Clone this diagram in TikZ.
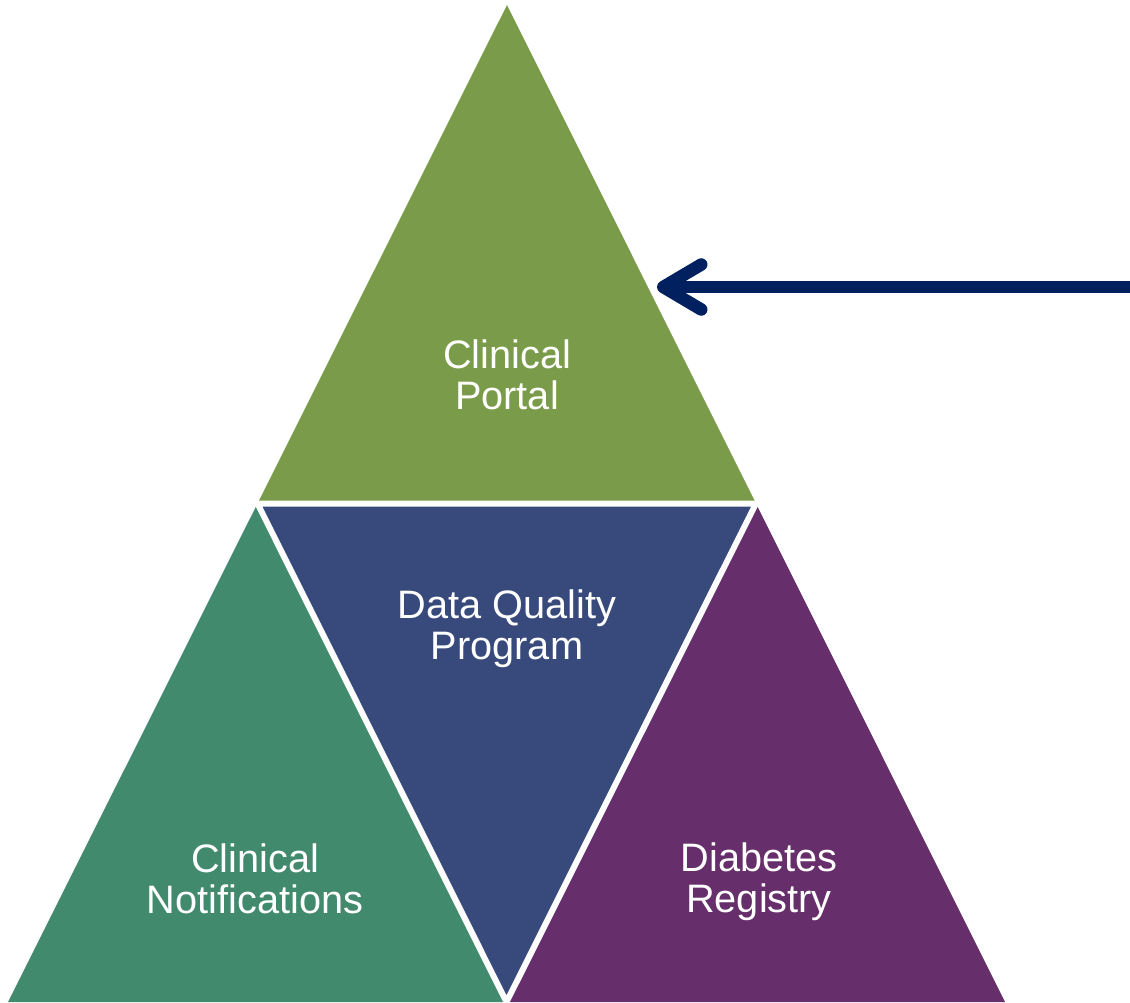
\documentclass[tikz,border=0pt]{standalone}
\usepackage{fontspec}
\setmainfont{Liberation Sans}
\usetikzlibrary{arrows.meta,calc}
\definecolor{portalgreen}{HTML}{7A9B4A}
\definecolor{qualityblue}{HTML}{384A7C}
\definecolor{notifteal}{HTML}{428A6E}
\definecolor{registrypurple}{HTML}{662E6A}
\definecolor{pointernavy}{HTML}{002060}
\tikzset{%
    gap/.style={%
        draw=white, line width=0.12cm, line join=round
    },
    txt/.style={%
        text=white, align=center, font=\fontsize{22.6}{23.3}\selectfont
    },
    pointer/.style={%
        draw=pointernavy, line width=0.25cm,
        -{Straight Barb[length=0.76cm, width=0.9cm, line cap=round, line join=round]}
    },
}

\begin{document}
\begin{tikzpicture}[x=0.02cm, y=-0.02cm]
      \useasboundingbox (0,0) rectangle (1130,1002);

      \coordinate (top) at (507,5);
      \coordinate (left) at (8,1002);
      \coordinate (right) at (1005,1002);
      \coordinate (midL) at ($(top)!0.5!(left)$);
      \coordinate (midR) at ($(top)!0.5!(right)$);
      \coordinate (midB) at ($(left)!0.5!(right)$);

      \fill[portalgreen] (top) -- (midL) -- (midR) -- cycle;
      \fill[notifteal] (midL) -- (left) -- (midB) -- cycle;
      \fill[registrypurple] (midR) -- (midB) -- (right) -- cycle;
      \fill[qualityblue] (midL) -- (midR) -- (midB) -- cycle;
      \draw[gap] (midL) -- (midR) -- (midB) -- cycle;

      \node[txt] (portal) at (507,375) {Clinical\\Portal};
      \node[txt] (quality) at (507,629) {Data Quality\\Program};
      \node[txt] (notif) at (255,879) {Clinical\\Notifications};
      \node[txt] (registry) at (759,882) {Diabetes\\Registry};

      \coordinate (start) at (1130,287);
      \coordinate (tip) at (657,287);
      \draw[pointer] (start) -- (tip);
    \end{tikzpicture}
\end{document}
